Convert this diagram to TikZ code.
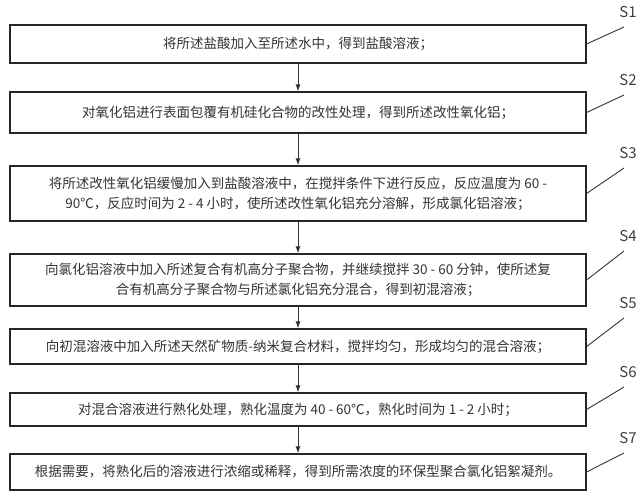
\documentclass[tikz,border=0pt]{standalone}
\usepackage{fontspec}
\setmainfont{Noto Sans CJK SC}
\usetikzlibrary{arrows.meta}
\begin{document}
\begin{tikzpicture}[x=1pt,y=-1pt,
  stepbox/.style={draw=black!85,line width=1.2pt,inner sep=0pt,text=black!80,font=\fontsize{13.5}{20}\selectfont,align=center},
  arr/.style={draw=black!80,line width=0.9pt,-{Latex[length=7pt,width=5pt]}},
  lead/.style={draw=black!80,line width=0.9pt},
  lab/.style={font=\fontsize{15}{18}\selectfont,text=black!75}]
\useasboundingbox (0,0) rectangle (640,495);
\def\bx#1#2#3#4{\node[stepbox,minimum width=576pt,minimum height=#3-#2] (#1) at (298,{(#2+#3)/2}) {#4};}
\bx{s1}{25}{63}{将所述盐酸加入至所述水中，得到盐酸溶液；}
\bx{s2}{92}{133}{对氧化铝进行表面包覆有机硅化合物的改性处理，得到所述改性氧化铝；}
\bx{s3}{166}{221}{将所述改性氧化铝缓慢加入到盐酸溶液中，在搅拌条件下进行反应，反应温度为 60 -\\90℃，反应时间为 2 - 4 小时，使所述改性氧化铝充分溶解，形成氯化铝溶液；}
\bx{s4}{254}{306}{向氯化铝溶液中加入所述复合有机高分子聚合物，并继续搅拌 30 - 60 分钟，使所述复\\合有机高分子聚合物与所述氯化铝充分混合，得到初混溶液；}
\bx{s5}{329}{364}{向初混溶液中加入所述天然矿物质-纳米复合材料，搅拌均匀，形成均匀的混合溶液；}
\bx{s6}{393}{426}{对混合溶液进行熟化处理，熟化温度为 40 - 60℃，熟化时间为 1 - 2 小时；}
\bx{s7}{454}{490}{根据需要，将熟化后的溶液进行浓缩或稀释，得到所需浓度的环保型聚合氯化铝絮凝剂。}
\foreach \a/\b in {s1/s2,s2/s3,s3/s4,s4/s5,s5/s6,s6/s7} \draw[arr] (\a.south) -- (\b.north);
\foreach \n/\ly in {s1/12,s2/80,s3/153,s4/236,s5/303,s6/372,s7/438}{
  \node[lab] (l\n) at (628,\ly) {\MakeUppercase{\n}};
  \coordinate (e\n) at (624,\ly+15);
  \draw[lead] (\n.east) -- (e\n);
}
\end{tikzpicture}
\end{document}
